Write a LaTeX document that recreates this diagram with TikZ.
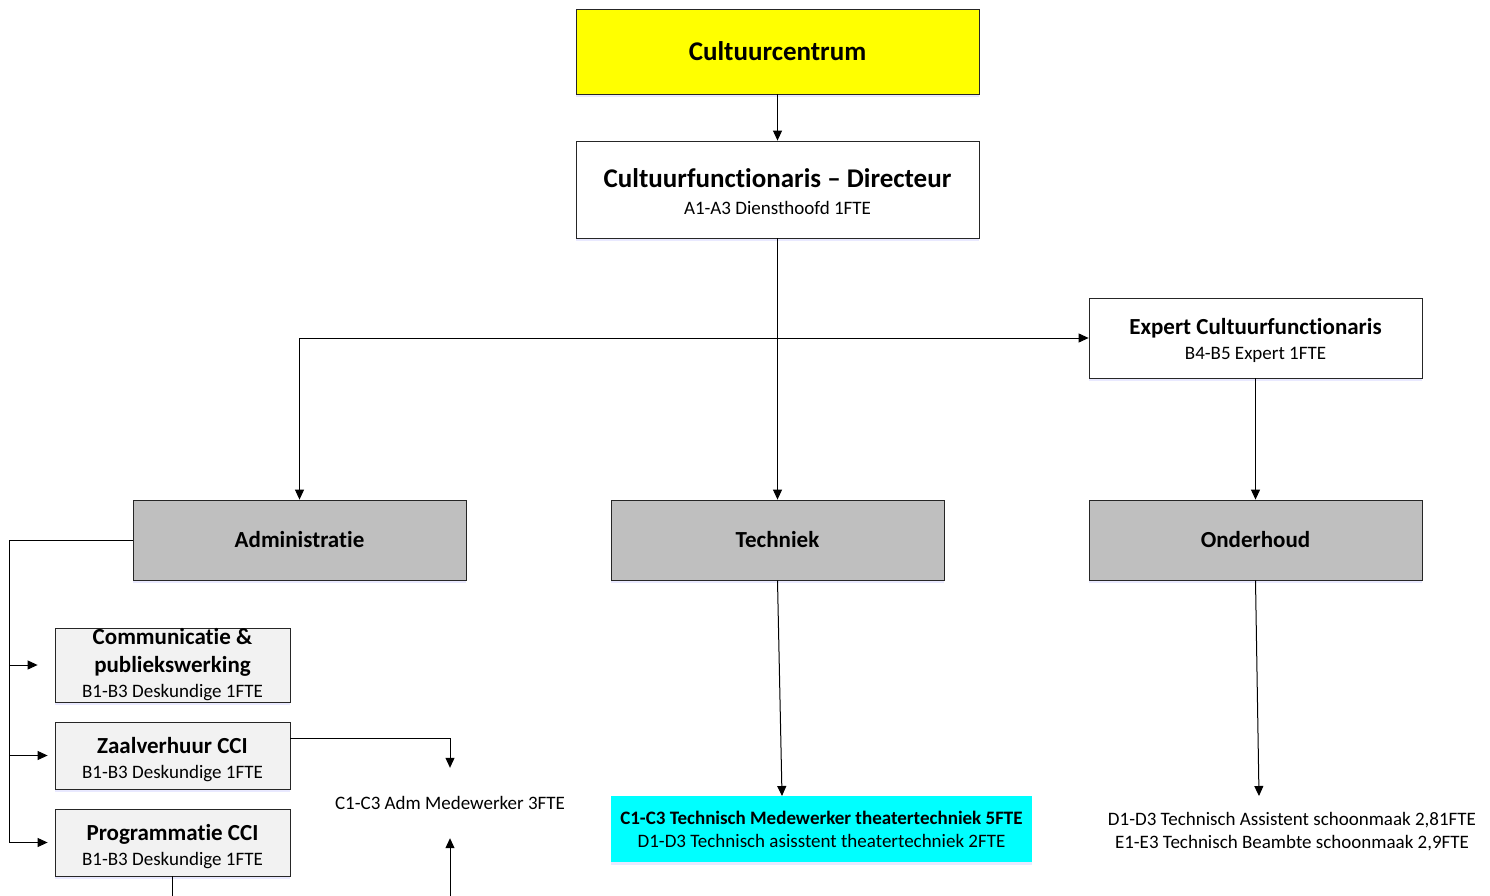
\documentclass[tikz,border=0pt]{standalone}
\usepackage{fontspec}
\setmainfont{Carlito}[Ligatures=NoCommon]
\usetikzlibrary{arrows.meta,shadows}
\usepackage{xcolor}
\definecolor{hgray}{HTML}{BFBFBF}
\definecolor{hlight}{HTML}{F2F2F2}
\definecolor{hyellow}{HTML}{FFFF00}
\definecolor{hcyan}{HTML}{00FFFF}
\newcommand{\bigtitle}{\fontsize{27}{27}\bfseries\selectfont}
\newcommand{\boxtitle}{\fontsize{23}{25}\bfseries\selectfont}
\newcommand{\boxsub}{\fontsize{19}{25}\mdseries\selectfont}

\begin{document}
\begin{tikzpicture}[x=1pt,y=-1pt,
    unit/.style={draw=black!85, line width=0.8pt, align=center, inner sep=0pt,
      font=\fontsize{19}{25}\selectfont,
      drop shadow={shadow xshift=0pt, shadow yshift=-3pt, fill=blue!35, opacity=0.25}},
    bigbox/.style={unit, minimum width=403pt},
    deptbox/.style={unit, fill=hgray, minimum width=333pt, minimum height=80pt},
    subbox/.style={unit, fill=hlight, minimum width=235pt},
    plain/.style={align=center, inner sep=0pt, font=\fontsize{19}{23}\selectfont},
    conn/.style={line width=1pt, -{Triangle[width=9pt,length=10pt]}},
    line/.style={line width=1pt}]
  \useasboundingbox (0,0) rectangle (1490,896);

  % top of the chart
  \node[bigbox, fill=hyellow, minimum height=85pt] (centrum) at (777.5,51.5) {\bigtitle Cultuurcentrum};
  \node[bigbox, fill=white, minimum height=97pt, font=\fontsize{19}{27}\selectfont] (directeur) at (777.5,189.5)
    {\bigtitle\rule{0pt}{24pt}Cultuurfunctionaris -- Directeur\\ \boxsub A1-A3 Diensthoofd 1FTE};
  \node[unit, fill=white, minimum width=333pt, minimum height=80pt] (expert) at (1255.5,338)
    {\boxtitle\rule{0pt}{22pt}Expert Cultuurfunctionaris\\ \boxsub B4-B5 Expert 1FTE};

  % departments
  \node[deptbox] (admin) at (299.5,540) {\boxtitle Administratie};
  \node[deptbox] (techniek) at (777.5,540) {\boxtitle Techniek};
  \node[deptbox] (onderhoud) at (1255.5,540) {\boxtitle Onderhoud};

  % administratie
  \node[subbox, minimum height=74pt] (comm) at (172.5,665)
    {\boxtitle Communicatie \&\\[3pt] \boxtitle publiekswerking\\ \boxsub B1-B3 Deskundige 1FTE};
  \node[subbox, minimum height=67pt] (zaal) at (172.5,755.5)
    {\boxtitle\rule{0pt}{24pt}Zaalverhuur CCI\\ \boxsub B1-B3 Deskundige 1FTE};
  \node[subbox, minimum height=67pt] (prog) at (172.5,842.5)
    {\boxtitle\rule{0pt}{24pt}Programmatie CCI\\ \boxsub B1-B3 Deskundige 1FTE};
  \node[plain, minimum height=70pt] (admmw) at (450,803) {\boxsub C1-C3 Adm Medewerker 3FTE};

  % techniek en onderhoud
  \node[fill=hcyan, align=center, inner sep=0pt, minimum width=421pt, minimum height=66pt,
    font=\fontsize{19}{23}\selectfont,
    drop shadow={shadow xshift=0pt, shadow yshift=-3pt, fill=blue!35, opacity=0.25}] (techmw) at (821.5,829)
    {\boxsub\bfseries C1-C3 Technisch Medewerker theatertechniek 5FTE\\ \boxsub D1-D3 Technisch asisstent theatertechniek 2FTE};
  \node[plain, minimum height=66pt] (schoon) at (1292,832)
    {\boxsub D1-D3 Technisch Assistent schoonmaak 2,81FTE\\ \boxsub E1-E3 Technisch Beambte schoonmaak 2,9FTE};

  \coordinate (split) at (777.5,338);
  \coordinate (bus) at (9,540);
  \coordinate (techin) at (782,796);
  \coordinate (schoonin) at (1259,796);
  \coordinate (progout) at (172.5,896);
  \coordinate (admin-up) at (450,896);

  \draw[conn] (centrum) -- (directeur);
  \draw[line] (directeur.south) -- (split);
  \draw[conn] (split) -| (admin.north);
  \draw[conn] (directeur.south) -- (techniek.north);
  \draw[conn] (split) -- (expert.west);
  \draw[conn] (expert) -- (onderhoud);
  \draw[conn] (techniek.south) -- (techin);
  \draw[conn] (onderhoud.south) -- (schoonin);

  \draw[line] (admin.west) -- (bus);
  \draw[conn, shorten >=17pt] (bus) |- (comm.west);
  \draw[conn, shorten >=7pt] (bus) |- (zaal.west);
  \draw[conn, shorten >=7pt] (bus) |- (prog.west);
  \draw[conn] (zaal.north east) ++(0,17) -| (admmw.north);
  \draw[conn] (admin-up) -- (admmw.south);
  \draw[line] (prog.south) -- (progout);
\end{tikzpicture}
\end{document}
